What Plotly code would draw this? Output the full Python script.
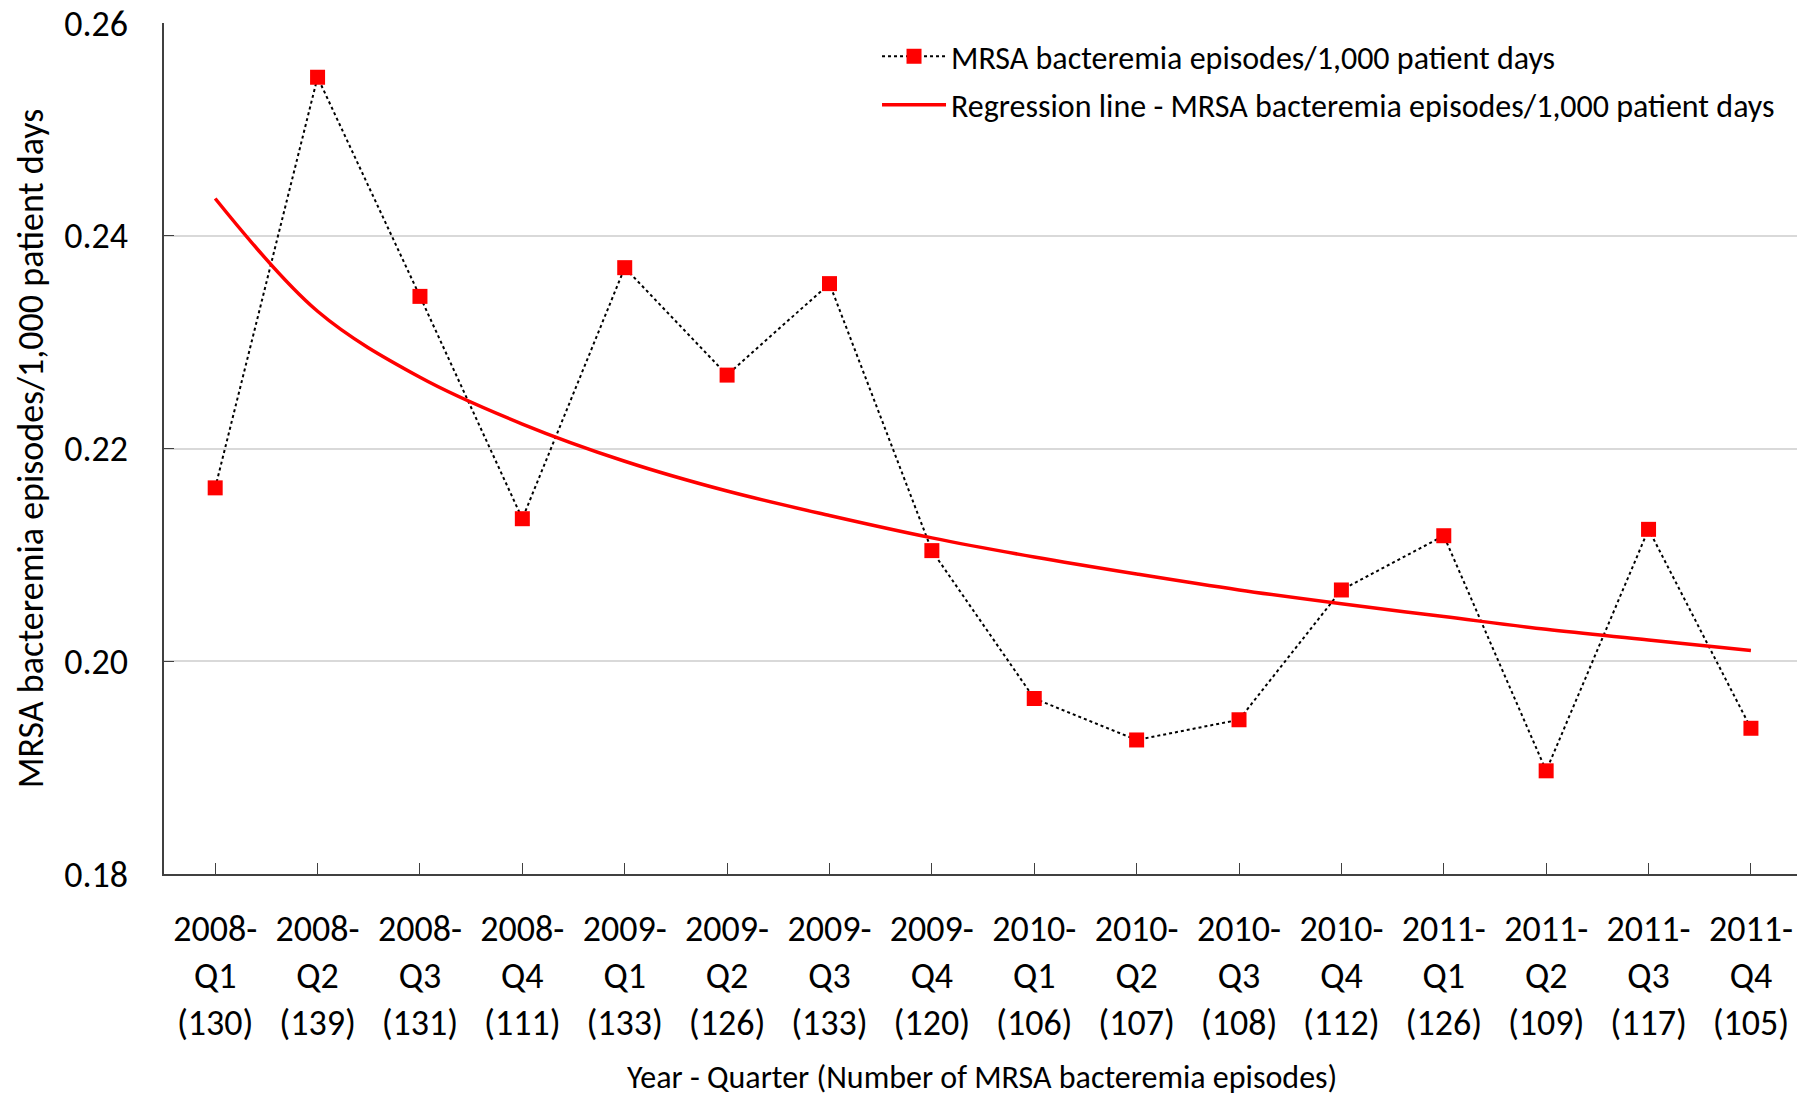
import plotly.graph_objects as go

years = ["2008", "2008", "2008", "2008", "2009", "2009", "2009", "2009",
         "2010", "2010", "2010", "2010", "2011", "2011", "2011", "2011"]
quarters = ["Q1", "Q2", "Q3", "Q4"] * 4
episodes = [130, 139, 131, 111, 133, 126, 133, 120, 106, 107, 108, 112, 126, 109, 117, 105]
rate = [0.2163, 0.2549, 0.2343, 0.2134, 0.2370, 0.2269, 0.2355, 0.2104,
        0.1965, 0.1926, 0.1945, 0.2067, 0.2118, 0.1897, 0.2124, 0.1937]
regression = [0.2435, 0.2329, 0.2267, 0.2223, 0.2188, 0.2160, 0.2137, 0.2116,
              0.2098, 0.2082, 0.2067, 0.2054, 0.2042, 0.2030, 0.2020, 0.2010]
y_ticks = [0.18, 0.20, 0.22, 0.24, 0.26]

labels = [f"{y}-<br>{q}<br>({n})" for y, q, n in zip(years, quarters, episodes)]
xs = list(range(len(labels)))

FONT = "Carlito, Calibri, Lato, sans-serif"

fig = go.Figure()
fig.add_trace(go.Scatter(
    x=xs, y=rate, mode="lines+markers", legendgroup="a",
    name="MRSA bacteremia episodes/1,000 patient days",
    line=dict(color="black", width=2, dash="dot"),
    marker=dict(symbol="square", size=15, color="#ff0000"),
))
fig.add_trace(go.Scatter(
    x=xs, y=regression, mode="lines", legendgroup="b",
    name="Regression line - MRSA bacteremia episodes/1,000 patient days",
    line=dict(color="#ff0000", width=3.5, shape="spline"),
))

fig.update_layout(
    width=1797, height=1098,
    margin=dict(l=164, r=0, t=23, b=224),
    paper_bgcolor="white", plot_bgcolor="white",
    font=dict(family=FONT, color="black", size=36),
    legend=dict(x=0.9896, xanchor="right", y=0.993, yanchor="top",
                font=dict(size=32), bgcolor="rgba(0,0,0,0)",
                tracegroupgap=4, itemwidth=64),
    showlegend=True,
    annotations=[dict(
        text="Year - Quarter (Number of MRSA bacteremia episodes)",
        xref="paper", yref="paper", x=0.501, y=-0.2395,
        xanchor="center", yanchor="middle", showarrow=False,
        font=dict(size=32, family=FONT, color="black"),
    )],
)
fig.update_xaxes(
    range=[-0.5, 15.45], automargin=False,
    tickmode="array", tickvals=xs, ticktext=labels,
    tickson="boundaries", ticks="inside", ticklen=11, tickcolor="#404040",
    showline=True, linecolor="#404040", linewidth=1.5,
    showgrid=False, zeroline=False,
    tickfont=dict(size=36), ticklabelstandoff=22,
)
fig.update_yaxes(
    range=[0.18, 0.26], automargin=False,
    tickmode="array", tickvals=y_ticks, ticktext=[f"{v:.2f}" for v in y_ticks],
    ticks="inside", ticklen=10, tickcolor="#404040",
    showline=True, linecolor="#404040", linewidth=1.5,
    showgrid=True, gridcolor="#d9d9d9", gridwidth=1.5, zeroline=False,
    tickfont=dict(size=36), ticklabelstandoff=27,
    title=dict(text="MRSA bacteremia episodes/1,000 patient days",
               font=dict(size=36), standoff=10),
)

fig.write_html("out.html", config={"displayModeBar": False},
               post_script="document.body.style.margin='0';")
